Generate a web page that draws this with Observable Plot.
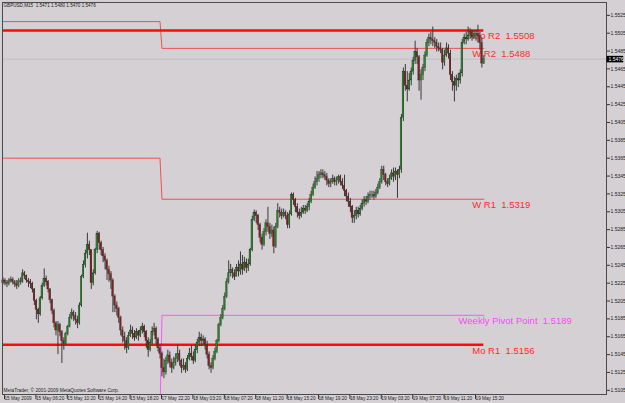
<!DOCTYPE html>
<html><head><meta charset="utf-8">
<script src="https://cdn.jsdelivr.net/npm/d3@7"></script>
<script src="https://cdn.jsdelivr.net/npm/@observablehq/plot@0.6"></script>
<style>
html,body{margin:0;padding:0;background:#d4d0d4;}
#chart{width:625px;height:403px;overflow:hidden;}
</style></head><body><div id="chart"></div>
<script>
// ---- data (prices in pips: 5228 means 1.5228) ----
const symbol = "GBPUSD", period = "M15";
const firstOpen = 5225;
const closes = [5228,5225,5224,5227,5229,5226,5224,5222,5227,5226,
5236,5233,5228,5226,5224,5218,5205,5195,5190,5208,
5222,5230,5226,5218,5206,5194,5180,5172,5178,5170,
5160,5157,5168,5176,5186,5192,5188,5184,5180,5200,
5232,5245,5258,5268,5262,5225,5236,5262,5280,5270,
5262,5255,5250,5240,5235,5228,5210,5200,5196,5186,
5172,5165,5160,5152,5166,5172,5168,5164,5170,5166,
5172,5176,5170,5160,5150,5158,5170,5174,5162,5152,
5146,5130,5125,5138,5144,5136,5130,5136,5140,5146,
5138,5130,5132,5128,5140,5146,5142,5138,5150,5158,
5164,5160,5162,5156,5145,5132,5130,5140,5148,5160,
5178,5186,5196,5210,5226,5236,5240,5236,5232,5242,
5238,5246,5240,5248,5242,5246,5262,5296,5304,5300,
5290,5276,5268,5282,5292,5288,5280,5284,5266,5288,
5306,5304,5300,5304,5300,5290,5302,5324,5318,5310,
5304,5300,5304,5308,5306,5310,5316,5324,5332,5338,
5342,5346,5348,5346,5344,5340,5336,5338,5342,5338,
5340,5344,5338,5334,5328,5322,5316,5310,5298,5300,
5306,5302,5308,5314,5318,5316,5322,5324,5324,5322,
5326,5332,5338,5352,5346,5338,5336,5342,5348,5344,
5350,5346,5352,5410,5462,5446,5442,5452,5462,5474,
5484,5478,5452,5458,5466,5480,5494,5500,5498,5496,
5494,5490,5488,5486,5472,5480,5488,5482,5458,5450,
5446,5454,5452,5460,5494,5500,5498,5502,5506,5500,
5502,5504,5502,5494,5471,5476];
const highs = [5231,5230,5228,5230,5232,5231,5228,5228,5230,5231,
5240,5238,5234,5230,5229,5226,5219,5207,5197,5210,
5225,5241,5233,5228,5219,5207,5196,5182,5182,5180,
5172,5164,5170,5178,5190,5196,5194,5192,5188,5203,
5234,5250,5262,5281,5272,5262,5240,5264,5283,5282,
5272,5265,5258,5252,5244,5238,5230,5212,5204,5198,
5188,5176,5170,5164,5170,5178,5176,5172,5174,5172,
5176,5180,5178,5172,5164,5162,5176,5180,5176,5164,
5156,5148,5140,5142,5150,5148,5140,5142,5146,5156,
5150,5140,5140,5136,5144,5152,5155,5148,5156,5162,
5170,5168,5166,5164,5160,5148,5136,5144,5152,5162,
5180,5190,5200,5214,5230,5250,5246,5242,5240,5246,
5250,5260,5256,5254,5252,5252,5264,5300,5307,5306,
5302,5292,5280,5286,5296,5310,5292,5290,5288,5292,
5314,5310,5308,5308,5306,5304,5306,5326,5326,5320,
5314,5308,5310,5312,5312,5314,5320,5328,5336,5344,
5350,5350,5352,5352,5350,5348,5342,5342,5346,5344,
5344,5346,5346,5342,5346,5330,5326,5320,5312,5306,
5310,5310,5312,5318,5322,5322,5326,5328,5328,5328,
5330,5336,5342,5356,5356,5348,5342,5346,5352,5354,
5354,5352,5356,5414,5466,5470,5462,5460,5466,5478,
5496,5488,5480,5464,5470,5484,5498,5504,5506,5512,
5500,5498,5494,5494,5488,5486,5494,5492,5486,5462,
5456,5458,5460,5464,5498,5504,5506,5512,5510,5508,
5508,5508,5514,5506,5500,5480];
const lows = [5223,5222,5220,5222,5225,5223,5220,5218,5220,5223,
5225,5229,5225,5220,5219,5214,5200,5184,5180,5188,
5206,5220,5222,5214,5202,5190,5175,5166,5145,5165,
5135,5150,5155,5166,5175,5184,5182,5178,5174,5178,
5198,5230,5242,5252,5256,5218,5222,5234,5258,5262,
5256,5248,5240,5228,5226,5218,5192,5192,5188,5180,
5166,5158,5150,5146,5150,5164,5162,5160,5162,5160,
5164,5168,5164,5152,5142,5148,5156,5166,5156,5148,
5140,5120,5118,5122,5134,5130,5124,5128,5132,5136,
5132,5124,5127,5124,5126,5138,5138,5134,5136,5146,
5154,5154,5155,5150,5140,5128,5124,5128,5138,5146,
5158,5176,5184,5194,5208,5224,5232,5230,5228,5232,
5232,5234,5234,5238,5236,5238,5244,5260,5294,5292,
5284,5270,5262,5266,5278,5282,5274,5276,5258,5264,
5286,5298,5296,5298,5296,5286,5286,5300,5312,5304,
5298,5296,5298,5302,5302,5304,5306,5314,5322,5330,
5334,5338,5342,5342,5340,5334,5332,5332,5336,5334,
5334,5336,5334,5330,5322,5316,5310,5304,5292,5292,
5296,5298,5300,5306,5310,5312,5314,5318,5320,5318,
5320,5324,5330,5336,5340,5334,5332,5334,5340,5338,
5340,5320,5342,5348,5406,5440,5428,5440,5446,5458,
5470,5470,5440,5430,5452,5462,5478,5490,5492,5490,
5488,5484,5484,5482,5464,5468,5478,5476,5452,5440,
5428,5440,5444,5448,5456,5492,5492,5496,5498,5496,
5498,5496,5494,5486,5466,5470];

// pivot levels
const levelNames  = ["Mo R2", "W R2", "W R1", "Weekly Pivot Point", "Mo R1"];
const levelValues = [1.5508, 1.5488, 1.5319, 1.5189, 1.5156];
const prevWeekValues = {"W R2": 1.5518, "W R1": 1.5365, "Weekly Pivot Point": 1.5080};
const newWeekBar = 81;

// axis ticks
const yTicks = [1.5525,1.5505,1.5485,1.5465,1.5445,1.5425,1.5405,1.5385,1.5365,1.5345,1.5325,
                1.5305,1.5285,1.5265,1.5245,1.5225,1.5205,1.5185,1.5165,1.5145,1.5125,1.5105];
const xTickBars = [0,16,32,48,64,80,96,112,128,144,160,176,192,208,224,240];
const xTickLabels = ["15 May 2009","15 May 06:20","15 May 10:20","15 May 14:20","15 May 18:20",
  "17 May 22:20","18 May 03:20","18 May 07:20","18 May 11:20","18 May 15:20","18 May 19:20",
  "18 May 23:20","19 May 03:20","19 May 07:20","19 May 11:20","19 May 15:20"];

// ---- build ----
const P = v => 1 + v / 10000;
const bars = closes.map((c, i) => {
  const o = i ? closes[i - 1] : firstOpen;
  return {i, o: P(o), c: P(c), h: P(Math.max(highs[i], o, c)), l: P(Math.min(lows[i], o, c))};
});
const last = bars[bars.length - 1];
const lastI = last.i;
const xDom = [-0.255, 307.5];

const weekly = [];
for (const name of ["W R2", "W R1", "Weekly Pivot Point"]) {
  const v = levelValues[levelNames.indexOf(name)];
  weekly.push({name, i: xDom[0], v: prevWeekValues[name]},
              {name, i: newWeekBar - 1, v: prevWeekValues[name]},
              {name, i: newWeekBar, v},
              {name, i: lastI, v});
}
const monthly = levelNames.filter(n => n.startsWith("Mo")).map(n => ({name: n, v: levelValues[levelNames.indexOf(n)]}));
const labels = levelNames.map((n, k) => ({
  name: n, v: levelValues[k],
  i: n === "Weekly Pivot Point" ? lastI - 12.9 : lastI - 5.9,
  text: n + "\u00a0\u00a0" + levelValues[k].toFixed(4)
}));
const colorOf = n => n === "Weekly Pivot Point" ? "#ff44ff" : "#ff2a2a";

const fmt = v => v.toFixed(4);
const title = `${symbol},${period}\u00a0\u00a0${fmt(last.o)} ${fmt(last.h)} ${fmt(last.l)} ${fmt(last.c)}`;

const chart = Plot.plot({
  width: 625, height: 403,
  marginLeft: 2, marginRight: 19, marginTop: 2, marginBottom: 9,
  style: {background: "#d4d0d4", fontFamily: "Liberation Sans, Arial, sans-serif", fontSize: "5px", color: "#1a1a1a", overflow: "visible"},
  x: {domain: xDom, axis: null, label: null},
  y: {domain: [1.51003, 1.55394], axis: null, label: null},
  marks: [
    Plot.ruleY([last.c], {stroke: "#bcb8bc", strokeWidth: 0.8}),
    Plot.line(weekly, {x: "i", y: "v", z: "name", stroke: d => d.name === "Weekly Pivot Point" ? "#ff55ff" : "#f05050", strokeWidth: 1, clip: true}),
    Plot.ruleY(monthly, {y: "v", x1: xDom[0], x2: lastI, stroke: "#ff0a0a", strokeWidth: 2.4}),
    Plot.text(labels, {x: "i", y: "v", text: "text", fill: d => colorOf(d.name), fontSize: 9.5, textAnchor: "start", lineAnchor: "top", dy: 2}),
    Plot.ruleX(bars, {x: "i", y1: "l", y2: "h", stroke: "#3a3a3a", strokeWidth: 1}),
    Plot.rect(bars, {x1: d => d.i - 0.4, x2: d => d.i + 0.4, y1: "o", y2: "c", fill: d => d.c >= d.o ? "#238a23" : "#8a1c1c", stroke: "#2e2e2e", strokeWidth: 0.3}),
    Plot.axisY({anchor: "right", label: null, ticks: yTicks, tickFormat: fmt, tickSize: 3, tickPadding: 1, fontSize: 5, stroke: "#333", fill: "#222"}),
    Plot.axisX({anchor: "bottom", label: null, ticks: xTickBars, tickFormat: d => xTickLabels[xTickBars.indexOf(d)], tickSize: 5, tickPadding: -3, textAnchor: "start", dx: 1.5, fontSize: 4.7, stroke: "#333", fill: "#222"}),
    Plot.frame({stroke: "#4a4a4a"}),
    Plot.ruleY([last.c], {x1: xDom[1] + 0.3, x2: xDom[1] + 8.8, stroke: "#000", strokeWidth: 6.5}),
    Plot.text([last.c], {x: xDom[1], y: d => d, text: fmt, dx: 2, textAnchor: "start", fill: "#fff", fontSize: 5}),
    Plot.text([title], {frameAnchor: "top-left", dx: 1, dy: 1.5, lineAnchor: "top", fontSize: 4.6, fill: "#222"}),
    Plot.text(["MetaTrader, \u00a9 2001-2009 MetaQuotes Software Corp."], {frameAnchor: "bottom-left", dx: 1, dy: -4, lineAnchor: "middle", fontSize: 4.8, fill: "#222"})
  ]
});
document.getElementById("chart").append(chart);
</script>
</body></html>
